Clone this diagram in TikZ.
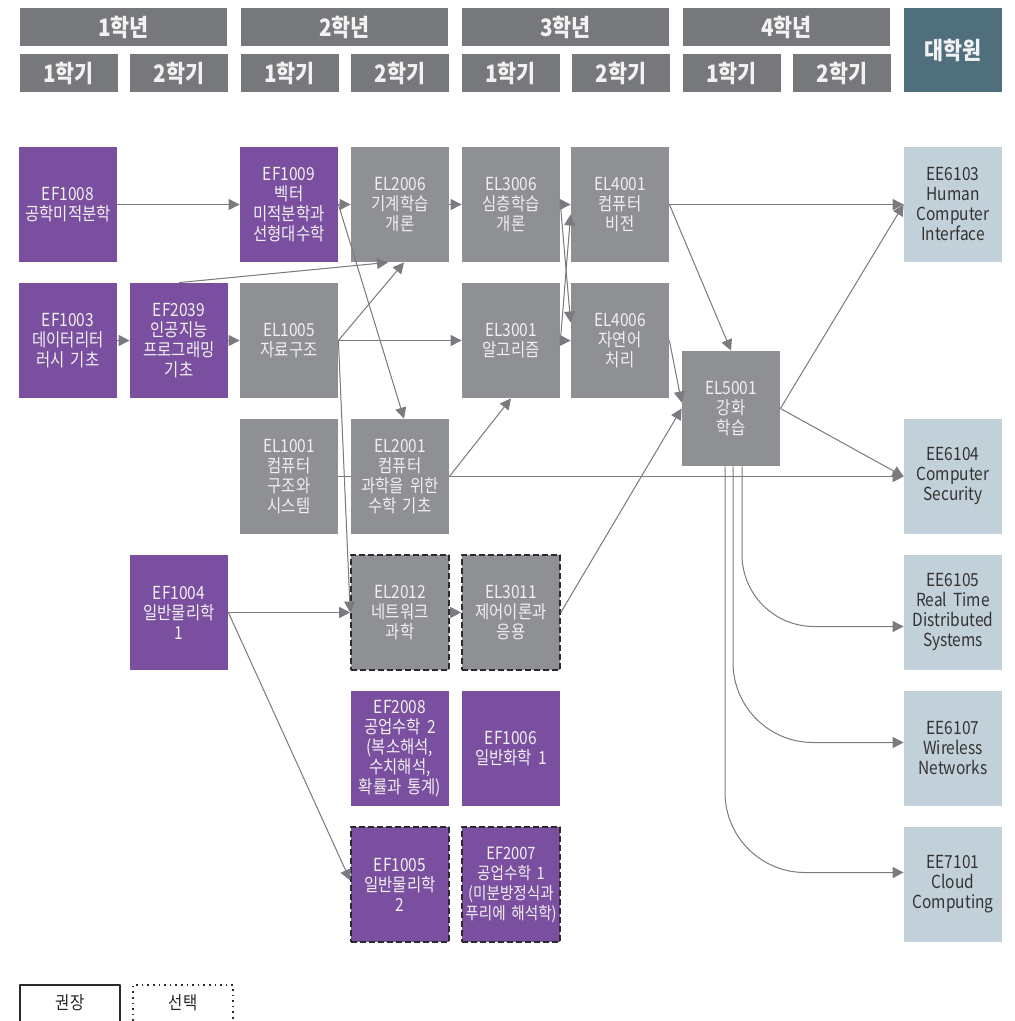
\documentclass[tikz,border=0pt]{standalone}
\usepackage{fontspec}
\setmainfont{Noto Sans CJK KR}[FakeStretch=0.86]
\usetikzlibrary{arrows.meta,backgrounds}
\definecolor{hdrgray}{HTML}{77787C}
\definecolor{gradteal}{HTML}{4F6F7D}
\definecolor{efpurple}{HTML}{7B4FA0}
\definecolor{elgray}{HTML}{8F9094}
\definecolor{eeblue}{HTML}{C2D1D9}
\definecolor{linegray}{HTML}{7A7B7F}
\definecolor{dashdark}{HTML}{2B2B2B}
\tikzset{
  course/.style={minimum width=49pt, minimum height=57.5pt, inner sep=0pt,
    text width=47pt, align=center, font=\fontsize{9}{10}\selectfont},
  ef/.style={course, fill=efpurple, text=white!94!black},
  el/.style={course, fill=elgray, text=white!94!black},
  ee/.style={course, fill=eeblue, text=black!80},
  opt/.style={draw=dashdark, line width=0.8pt, dash pattern=on 3pt off 1.5pt},
  hdr/.style={fill=hdrgray, text=white!95!black, minimum height=19pt, inner sep=0pt,
    font=\fontsize{12}{13}\selectfont\bfseries},
  arr/.style={draw=linegray, fill=linegray, line width=0.5pt, ->},
}
\begin{document}
\begin{tikzpicture}[x=0.5pt, y=-0.5pt, line join=round, >={Triangle[length=5.5pt,width=5.5pt]}]
	\useasboundingbox (0,0) rectangle (1014,1021);
	% 학년 / 학기
	\foreach \i in {1,...,4}{
		\node[hdr, minimum width=103.5pt] (y\i) at ({123.5+221*(\i-1)},27) {{\i}학년};
		\node[hdr, minimum width=49pt] (s\i-1) at ({68.5+221*(\i-1)},73.5) {1학기};
		\node[hdr, minimum width=49pt] (s\i-2) at ({179+221*(\i-1)},73.5) {2학기};
	}
	\node[hdr, fill=gradteal, minimum width=49pt, minimum height=42pt] (grad) at (953,50) {대학원};
	% 과목
	\node[ef] (ef1008) at (68,204.5) {EF1008\\공학미적분학};
	\node[ef] (ef1009) at (289,204.5) {EF1009\\벡터\\미적분학과\\선형대수학};
	\node[el] (el2006) at (400,204.5) {EL2006\\기계학습\\개론};
	\node[el] (el3006) at (511,204.5) {EL3006\\심층학습\\개론};
	\node[el] (el4001) at (620,204.5) {EL4001\\컴퓨터\\비전};
	\node[ef] (ef1003) at (68,340.5) {EF1003\\데이터리터\\러시 기초};
	\node[ef] (ef2039) at (179,340.5) {EF2039\\인공지능\\프로그래밍\\기초};
	\node[el] (el1005) at (289,340.5) {EL1005\\자료구조};
	\node[el] (el3001) at (511,340.5) {EL3001\\알고리즘};
	\node[el] (el4006) at (620,340.5) {EL4006\\자연어\\처리};
	\node[el] (el5001) at (731,408.5) {EL5001\\강화\\학습};
	\node[el] (el1001) at (289,476.5) {EL1001\\컴퓨터\\구조와\\시스템};
	\node[el] (el2001) at (400,476.5) {EL2001\\컴퓨터\\과학을 위한\\수학 기초};
	\node[ef] (ef1004) at (179,612.5) {EF1004\\일반물리학\\1};
	\node[el, opt] (el2012) at (400,612.5) {EL2012\\네트워크\\과학};
	\node[el, opt] (el3011) at (511,612.5) {EL3011\\제어이론과\\응용};
	\node[ef] (ef2008) at (400,748.5) {EF2008\\공업수학 2\\(복소해석,\\수치해석,\\확률과 통계)};
	\node[ef] (ef1006) at (511,748.5) {EF1006\\일반화학 1};
	\node[ef, opt] (ef1005) at (400,884.5) {EF1005\\일반물리학\\2};
	\node[ef, opt, font=\fontsize{8.5}{10}\selectfont] (ef2007) at (511,884.5) {EF2007\\공업수학 1\\(미분방정식과\\푸리에 해석학)};
	% 대학원
	\node[ee] (ee6103) at (953,204.5) {EE6103\\Human\\Computer\\Interface};
	\node[ee] (ee6104) at (953,476.5) {EE6104\\Computer\\Security};
	\node[ee] (ee6105) at (953,612.5) {EE6105\\Real Time\\Distributed\\Systems};
	\node[ee] (ee6107) at (953,748.5) {EE6107\\Wireless\\Networks};
	\node[ee] (ee7101) at (953,884.5) {EE7101\\Cloud\\Computing};
	% 선수 관계
	\begin{scope}[on background layer]
		\draw[arr] (el1001.east) -- (ee6104.west);
	\end{scope}
	\draw[arr] (ef1008.east) -- (ef1009.west);
	\draw[arr] (ef1009.east) -- (el2006.west);
	\draw[arr] (ef1009.east) -- ([xshift=2pt]el2001.north);
	\draw[arr] (el2006.east) -- (el3006.west);
	\draw[arr] (el3006.east) -- (el4001.west);
	\draw[arr] (el3006.east) -- ([yshift=9pt]el4006.west);
	\draw[arr] (ef1003.east) -- (ef2039.west);
	\draw[arr] (ef2039.east) -- (el1005.west);
	\draw[arr] (ef2039.north) -- ([xshift=-6pt]el2006.south);
	\draw[arr] (el1005.east) -- ([xshift=2pt]el2006.south);
	\draw[arr] (el1005.east) -- (el3001.west);
	\draw[arr] (el1005.east) -- (el2012.west);
	\draw[arr] (el3001.east) -- (el4006.west);
	\draw[arr] (el3001.east) -- ([yshift=-5pt]el4001.west);
	\draw[arr] (el2001.east) -- (el3001.south);
	\draw[arr] (ef1004.east) -- (el2012.west);
	\draw[arr] (ef1004.east) -- ([yshift=2pt]ef1005.west);
	\draw[arr] (el2012.east) -- (el3011.west);
	\draw[arr] (el3011.east) -- (el5001.west);
	\draw[arr] (el4006.east) -- ([yshift=3pt]el5001.west);
	\draw[arr] (el4001.east) -- (el5001.north);
	\draw[arr] (el4001.east) -- (ee6103.west);
	\draw[arr] (el5001.east) -- (ee6103.west);
	\draw[arr] (el5001.east) -- (ee6104.west);
	\draw[arr, fill=none, rounded corners=36pt] ([xshift=5.5pt]el5001.south) |- ([yshift=-7pt]ee6105.west);
	\draw[arr, fill=none, rounded corners=40pt] ([xshift=1pt]el5001.south) |- ([yshift=3pt]ee6107.west);
	\draw[arr, fill=none, rounded corners=40pt] ([xshift=-3pt]el5001.south) |- ([yshift=6pt]ee7101.west);
	% 범례
	\node[font=\fontsize{9}{10}\selectfont, text=black!85] (rec) at (70,1003) {권장};
	\node[font=\fontsize{9}{10}\selectfont, text=black!85] (sel) at (183,1003) {선택};
	\draw[dashdark, line width=0.8pt] (20,1021) |- (120,985) -- (120,1021);
	\draw[dashdark, line width=0.8pt, dotted] (133,1021) |- (233,985) -- (233,1021);
\end{tikzpicture}
\end{document}
